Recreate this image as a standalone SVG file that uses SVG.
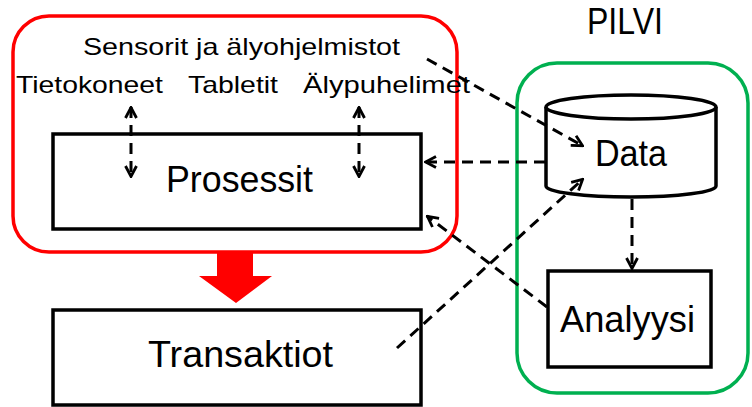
<svg xmlns="http://www.w3.org/2000/svg" width="752" height="407" viewBox="0 0 752 407">
  <style>
    .lbl { font-family: "Liberation Sans", Arial, sans-serif; fill: #000; }
    .sm { font-size: 24px; }
    .lg { font-size: 36px; }
    .box { fill: #fff; stroke: #000; stroke-width: 3.5; }
    .dash { fill: none; stroke: #000; stroke-width: 3; stroke-dasharray: 11 7; }
  </style>
  <defs>
    <marker id="head" viewBox="0 0 14 14" refX="13" refY="7" markerWidth="14" markerHeight="14" markerUnits="userSpaceOnUse" orient="auto-start-reverse">
      <path d="M2,1.5 L12.5,7 L2,12.5" fill="none" stroke="#000" stroke-width="2.8" stroke-linejoin="miter"/>
    </marker>
  </defs>

  <rect width="752" height="407" fill="#fff"/>

  <!-- Device / process group -->
  <g id="devices">
    <rect x="13" y="16" width="444" height="236" rx="36" ry="36" fill="#fff" stroke="#ff0000" stroke-width="3.5"/>
    <text class="lbl sm" x="83" y="55" textLength="317" lengthAdjust="spacingAndGlyphs">Sensorit ja älyohjelmistot</text>
    <text class="lbl sm" x="16" y="93" textLength="147" lengthAdjust="spacingAndGlyphs">Tietokoneet</text>
    <text class="lbl sm" x="188" y="93" textLength="90" lengthAdjust="spacingAndGlyphs">Tabletit</text>
    <text class="lbl sm" x="303" y="93" textLength="167" lengthAdjust="spacingAndGlyphs">Älypuhelimet</text>
  </g>

  <g id="prosessit">
    <rect class="box" x="53" y="134" width="368" height="95"/>
    <text class="lbl lg" x="166" y="192" textLength="147" lengthAdjust="spacingAndGlyphs">Prosessit</text>
  </g>

  <!-- Cloud group -->
  <g id="pilvi">
    <text class="lbl lg" x="587" y="34" textLength="76" lengthAdjust="spacingAndGlyphs">PILVI</text>
    <rect x="517" y="63" width="231" height="330" rx="40" ry="40" fill="#fff" stroke="#00b050" stroke-width="3.5"/>
  </g>

  <g id="data">
    <path d="M546,107 L546,186 A85,11 0 0 0 716,186 L716,107" fill="#fff" stroke="#000" stroke-width="3.5"/>
    <ellipse cx="631" cy="107" rx="85" ry="12" fill="#fff" stroke="#000" stroke-width="3.5"/>
    <text class="lbl lg" x="595" y="166" textLength="72" lengthAdjust="spacingAndGlyphs">Data</text>
  </g>

  <g id="analyysi">
    <rect class="box" x="548" y="271" width="163" height="96"/>
    <text class="lbl lg" x="560" y="332" textLength="135" lengthAdjust="spacingAndGlyphs">Analyysi</text>
  </g>

  <g id="transaktiot">
    <rect class="box" x="53" y="310" width="368" height="95"/>
    <text class="lbl lg" x="148" y="367" textLength="185" lengthAdjust="spacingAndGlyphs">Transaktiot</text>
  </g>

  <!-- Connectors -->
  <g id="connectors">
    <polygon points="217,252 253,252 253,276 272,276 236,303 199,276 217,276" fill="#ff0000"/>
    <line class="dash" x1="131" y1="107" x2="131" y2="177" marker-start="url(#head)" marker-end="url(#head)"/>
    <line class="dash" x1="359" y1="107" x2="359" y2="177" marker-start="url(#head)" marker-end="url(#head)"/>
    <line class="dash" x1="545" y1="162" x2="425" y2="162" marker-end="url(#head)"/>
    <line class="dash" x1="427" y1="59" x2="583" y2="146" marker-end="url(#head)"/>
    <line class="dash" x1="397" y1="348" x2="583" y2="179" marker-end="url(#head)"/>
    <line class="dash" x1="547" y1="307" x2="427" y2="216" marker-end="url(#head)"/>
    <line class="dash" x1="632" y1="199" x2="632" y2="269" marker-end="url(#head)"/>
  </g>
</svg>
